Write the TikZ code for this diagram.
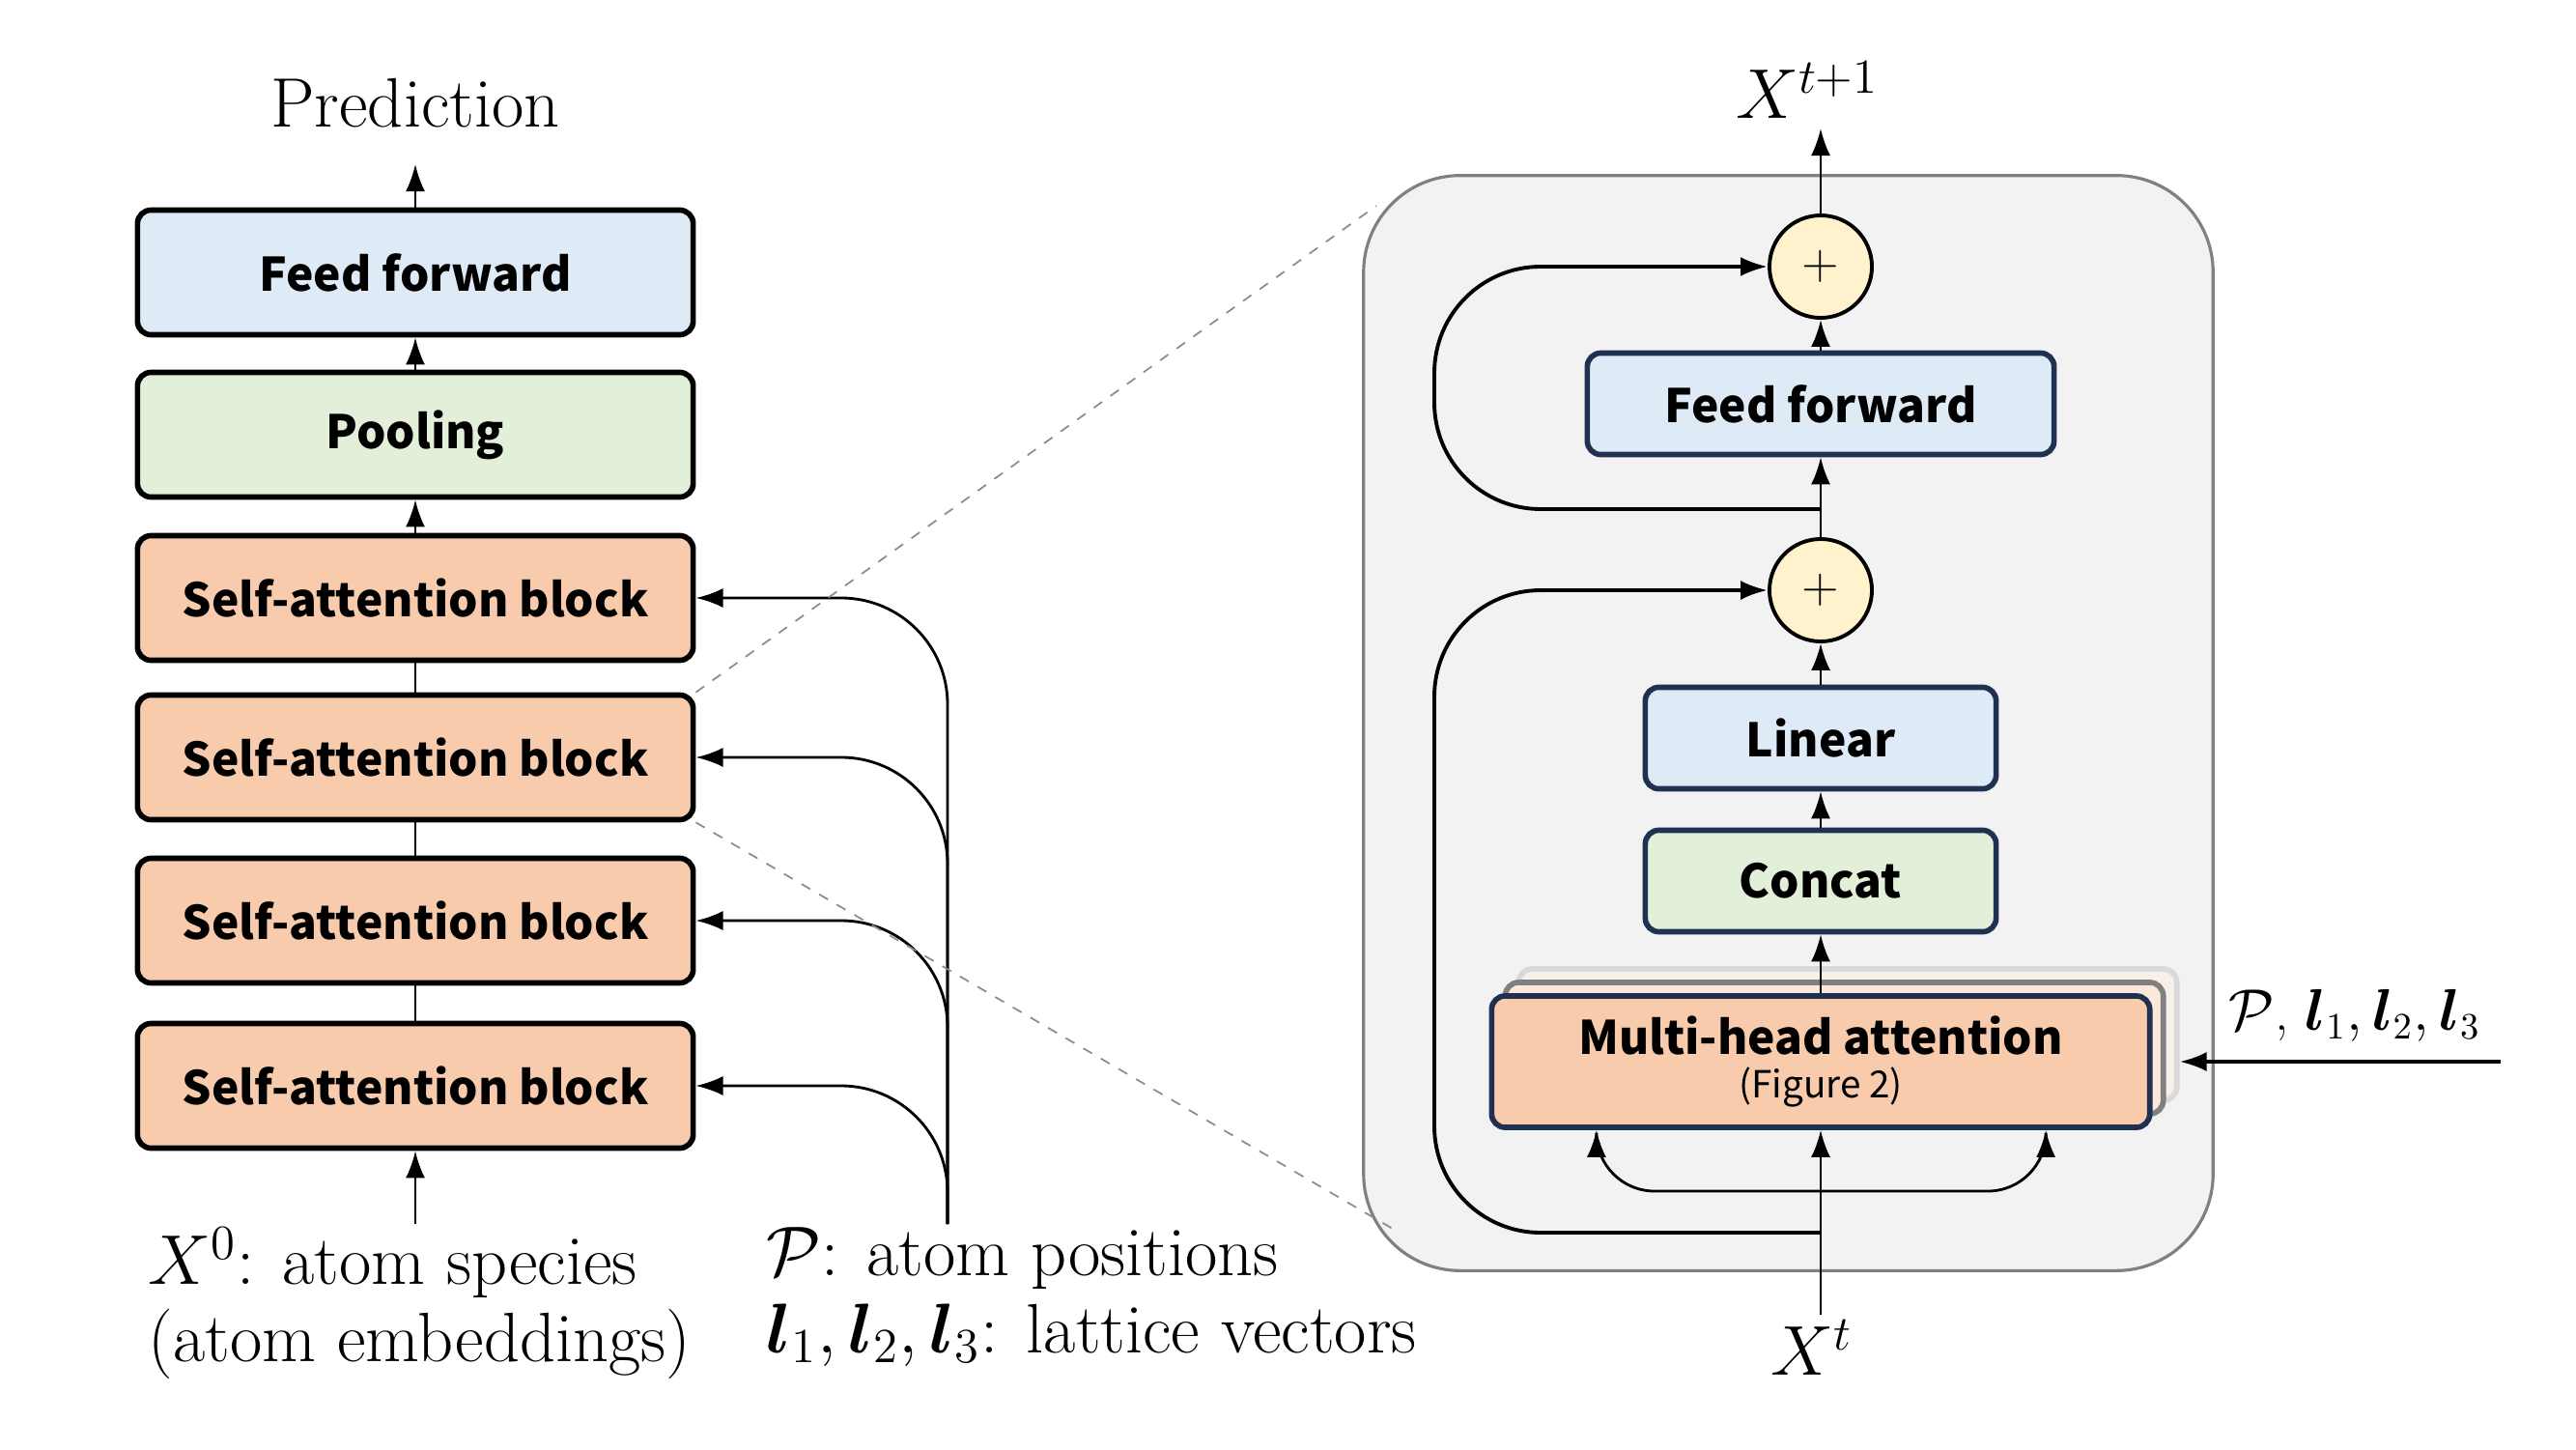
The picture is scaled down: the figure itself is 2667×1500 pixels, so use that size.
\documentclass[tikz,border=0pt]{standalone}
\usepackage{amsmath, amssymb}
\usepackage{fontspec}
\usepackage{tikz}
\usetikzlibrary{arrows.meta, calc}
\newfontfamily\boxfont{Noto Sans CJK JP}

\definecolor{ffblue}{HTML}{DEEBF7}
\definecolor{poolgreen}{HTML}{E2F0D9}
\definecolor{saorange}{HTML}{F8CBAD}
\definecolor{plusyellow}{HTML}{FFF2CC}
\definecolor{navy}{HTML}{1F3050}
\definecolor{panelgray}{HTML}{F2F2F2}

\tikzset{
  blk/.style={draw, rounded corners=0.14cm, line width=1.6pt, minimum width=5.75cm, minimum height=1.29cm,
    font=\boxfont\bfseries\fontsize{13.6}{15}\selectfont},
  rblk/.style={blk, draw=navy, minimum height=1.05cm},
  plus/.style={circle, draw, line width=1.1pt, fill=plusyellow, minimum size=1.06cm, inner sep=0pt,
    font=\fontsize{14}{14}\selectfont},
  lbl/.style={inner sep=0pt, font=\fontsize{20.6}{22.6}\selectfont},
  arr/.style={-{Latex[length=2.8mm, width=2mm]}, line width=0.8pt},
  skip/.style={arr, line width=1.1pt, rounded corners=1.1cm}
}

\begin{document}
\begin{tikzpicture}[x=0.01cm, y=-0.01cm]
  \useasboundingbox (0,0) rectangle (2667,1500);

  % left: whole model
  \node[lbl] (pred) at (430,107) {Prediction};
  \node[blk, fill=ffblue] (ff) at (430,282) {Feed forward};
  \node[blk, fill=poolgreen] (pool) at (430,450) {Pooling};
  \foreach \i/\y in {1/619, 2/784, 3/953, 4/1124} {
    \node[blk, fill=saorange] (sa\i) at (430,\y) {Self-attention block};
  }
  \coordinate (predin) at (430,170);
  \coordinate (xzero) at (430,1267);
  \coordinate (tap) at (981,1267);

  \draw[arr] (ff) -- (predin);
  \draw[arr] (pool) -- (ff);
  \draw[arr] (sa1) -- (pool);
  \draw[line width=0.8pt] (sa2) -- (sa1) (sa3) -- (sa2) (sa4) -- (sa3);
  \draw[arr] (xzero) -- (sa4);
  \foreach \i in {1,...,4} {
    \draw[arr, rounded corners=1.1cm] (tap) |- (sa\i.east);
  }

  \node[lbl, anchor=north west, align=left] (species) at (153,1270)
    {$X^0$: atom species\\(atom embeddings)};
  \node[lbl, anchor=north west, align=left] (geom) at (793,1270)
    {$\mathcal{P}$: atom positions\\$\boldsymbol{l}_1,\boldsymbol{l}_2,\boldsymbol{l}_3$: lattice vectors};

  % right: one self-attention block
  \node[draw=black!50, line width=0.9pt, fill=panelgray, rounded corners=1cm,
    minimum width=8.79cm, minimum height=11.33cm] (panel) at (1851.5,748.5) {};
  \coordinate (zoomtop) at (1425,213);
  \coordinate (zoombot) at (1442,1272);
  \draw[black!45, dashed, line width=0.5pt] (sa2.north east) -- (zoomtop);
  \draw[black!45, dashed, line width=0.5pt] (sa2.south east) -- (zoombot);

  \node[plus] (plus2) at (1885,276) {$+$};
  \node[rblk, fill=ffblue, minimum width=4.83cm] (rff) at (1885,418) {Feed forward};
  \node[plus] (plus1) at (1885,611) {$+$};
  \node[rblk, fill=ffblue, minimum width=3.63cm] (lin) at (1885,764) {Linear};
  \node[rblk, fill=poolgreen, minimum width=3.63cm] (cat) at (1885,912) {Concat};
  \node[rblk, draw=black!15, fill=brown!12, minimum width=6.81cm, minimum height=1.36cm] (mhaback2) at (1913,1071) {};
  \node[rblk, draw=black!50, fill=saorange!45, minimum width=6.81cm, minimum height=1.36cm] (mhaback1) at (1899,1085) {};
  \node[rblk, fill=saorange, minimum width=6.81cm, minimum height=1.36cm, align=center] (mha) at (1885,1099)
    {Multi-head attention\\[-2pt]{\mdseries\fontsize{11}{12}\selectfont (Figure 2)}};

  \node[lbl, font=\fontsize{21.5}{23}\selectfont] (xnext) at (1871,93) {$X^{t+1}$};
  \node[lbl, font=\fontsize{21.5}{23}\selectfont] (xt) at (1876,1395) {$X^t$};
  \node[lbl, font=\fontsize{16.2}{18}\selectfont] (geomr) at (2438,1051)
    {$\mathcal{P}$, $\boldsymbol{l}_1,\boldsymbol{l}_2,\boldsymbol{l}_3$};

  \coordinate (nextout) at (1885,133);
  \coordinate (xtin) at (1885,1361);
  \coordinate (fork0) at (1885,1276);
  \coordinate (fork1) at (1885,1233);
  \coordinate (fork2) at (1885,527);
  \coordinate (pin) at (2589,1099);

  \draw[arr] (plus2) -- (nextout);
  \draw[arr] (rff) -- (plus2);
  \draw[arr] (plus1) -- (rff);
  \draw[arr] (lin) -- (plus1);
  \draw[arr] (cat) -- (lin);
  \draw[arr] (mha.north) -- (cat);
  \draw[arr] (xtin) -- (mha.south);
  \draw[arr, rounded corners=0.6cm] (fork1) -| ([xshift=-2.32cm]mha.south);
  \draw[arr, rounded corners=0.6cm] (fork1) -| ([xshift=2.33cm]mha.south);
  \draw[skip] (fork0) -| (1485,611) -- (plus1.west);
  \draw[skip] (fork2) -| (1485,276) -- (plus2.west);
  \draw[arr, line width=1.1pt] (pin) -- (pin -| mhaback2.east);
\end{tikzpicture}
\end{document}
